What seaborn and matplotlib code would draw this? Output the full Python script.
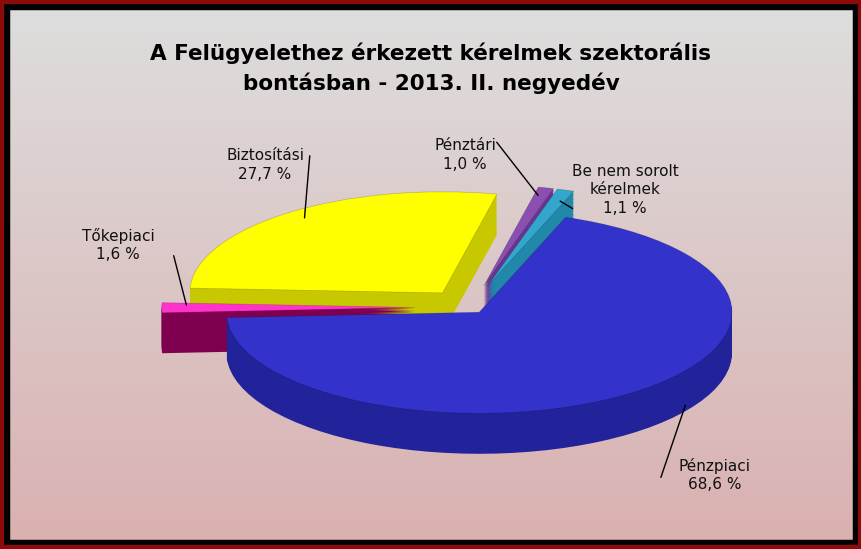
import numpy as np
import matplotlib
matplotlib.use("Agg")
import matplotlib.pyplot as plt
import matplotlib.colors as mc
import seaborn as sns

sns.set_theme(style="white")
plt.rcParams['font.family'] = ['DejaVu Sans']

categories = ["Be nem sorolt\nkérelmek", "Pénztári", "Biztosítási", "Tőkepiaci", "Pénzpiaci"]
values = [1.1, 1.0, 27.7, 1.6, 68.6]
colors = ["#33a6cc", "#8a4fb0", "#ffff00", "#ff33cc", "#3333cc"]
side_colors = ["#2288aa", "#6a3590", "#c8c800", "#800050", "#22229a"]
explode = [0.22, 0.22, 0.18, 0.22, 0.06]
label_text = ["Be nem sorolt\nkérelmek\n1,1 %", "Pénztári\n1,0 %", "Biztosítási\n27,7 %", "Tőkepiaci\n1,6 %", "Pénzpiaci\n68,6 %"]
label_pos = [(625, 190), (465, 155), (265, 165), (118, 245), (715, 475)]
leader_start = [(-50, -20), (30, 15), (45, 12), (55, -8), (-55, -5)]

W, H = 862, 549
fig = plt.figure(figsize=(W/100, H/100), dpi=100)
bg = fig.add_axes([0, 0, 1, 1])
bg.set_axis_off()
grad = np.linspace(0, 1, 256)[:, None]
top = np.array(mc.to_rgb("#dedede")); bot = np.array(mc.to_rgb("#dab0b0"))
img = top[None, None, :] * (1 - grad[..., None]) + bot[None, None, :] * grad[..., None]
bg.imshow(img, aspect="auto", extent=[0, 1, 0, 1])
bg.set_xlim(0, 1); bg.set_ylim(0, 1)
for lw, c in [(14, "#000000"), (6, "#8b0a0a")]:
    bg.add_patch(plt.Rectangle((0, 0), 1, 1, fill=False, lw=lw, ec=c, transform=bg.transAxes))

ax = fig.add_axes([0, 0, 1, 1])
ax.set_axis_off()
start = 70
depth = 0.40
n = 30
cx, cy = 0.0, 0.22
for i in range(n):
    dy = -depth * (1 - i / n)
    ax.pie(values, colors=side_colors, explode=explode, startangle=start, counterclock=True,
           center=(cx, cy + dy), radius=1.0, wedgeprops=dict(lw=0))
wedges, _ = ax.pie(values, colors=colors, explode=explode, startangle=start, counterclock=True,
                   center=(cx, cy), radius=1.0, wedgeprops=dict(lw=0.5, ec=(0, 0, 0, 0.2)))
ax.set_aspect("auto")
ax.set_xlim(-1.86, 1.55)
ax.set_ylim(-2.17, 3.26)

for i, (t, (px, py)) in enumerate(zip(label_text, label_pos)):
    w = wedges[i]
    mid = np.deg2rad((w.theta1 + w.theta2) / 2)
    wc = w.center
    if i == 4:
        mid = np.deg2rad(-35)
        pt = (wc[0] + np.cos(mid), wc[1] + np.sin(mid) - depth * 0.8)
    else:
        pt = (wc[0] + 0.9 * np.cos(mid), wc[1] + 0.9 * np.sin(mid))
    fig.text(px / W, 1 - py / H, t, ha="center", va="center", fontsize=11, color="#111111", linespacing=1.3)
    ox, oy = leader_start[i]
    ax.annotate("", xy=pt, xytext=((px + ox) / W, 1 - (py - oy) / H),
                textcoords="figure fraction",
                arrowprops=dict(arrowstyle="-", color="black", lw=1))

fig.text(0.5, 0.875, "A Felügyelethez érkezett kérelmek szektorális\nbontásban - 2013. II. negyedév",
         ha="center", va="center", fontsize=15.5, fontweight="bold", linespacing=1.5, color="black")
fig.savefig("out.png", dpi=100)
